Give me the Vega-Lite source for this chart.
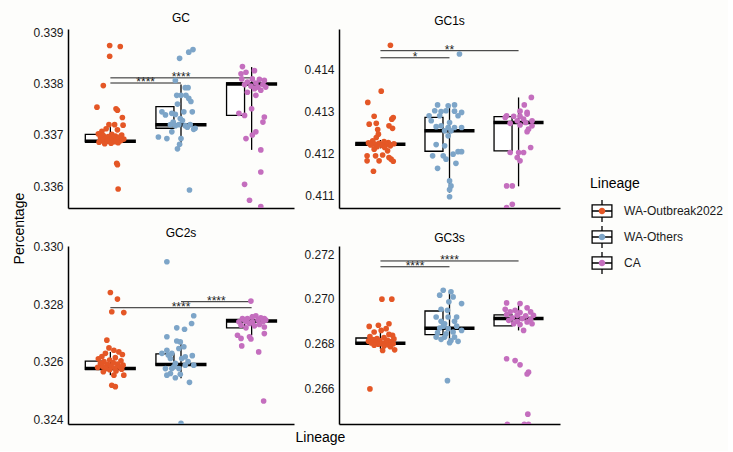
{
"$schema": "https://vega.github.io/schema/vega-lite/v6.json",
"background": "#fdfdfb",
"padding": {"left": 12, "top": 12, "right": 5, "bottom": 5},
"title": {"text": "Percentage", "orient": "left", "anchor": "middle", "fontSize": 14, "fontWeight": "normal", "color": "black", "offset": 6},
"config": {
 "view": {"stroke": null},
 "font": "Liberation Sans",
 "axisX": {"labels": false, "ticks": false, "domainColor": "black", "domainWidth": 1.5, "grid": false},
 "axisY": {"ticks": false, "labelPadding": 5, "labelFontSize": 12, "labelColor": "#1a1a1a", "domainColor": "black", "domainWidth": 1.5, "grid": false, "format": ".3f", "labelFlush": false},
 "title": {"fontSize": 12, "fontWeight": "normal", "color": "black", "offset": 1},
 "legend": {"titleFontSize": 14, "titleFontWeight": "normal", "labelFontSize": 12, "titleColor": "black", "labelColor": "#1a1a1a", "padding": 0, "titlePadding": 8, "rowPadding": -2, "labelOffset": 10, "symbolSize": 484},
 "concat": {"spacing": 9}
},
"datasets": {
"box": [
{"p":"GC","L":"WA-Outbreak2022","lo":0.33683,"q1":0.33687,"med":0.33688,"q3":0.33701,"hi":0.33720},
{"p":"GC","L":"WA-Others","lo":0.33680,"q1":0.33713,"med":0.33720,"q3":0.33755,"hi":0.33798},
{"p":"GC","L":"CA","lo":0.33671,"q1":0.33738,"med":0.33799,"q3":0.33801,"hi":0.33832},
{"p":"GC1s","L":"WA-Outbreak2022","lo":0.41212,"q1":0.41219,"med":0.41222,"q3":0.41226,"hi":0.41232},
{"p":"GC1s","L":"WA-Others","lo":0.41106,"q1":0.41205,"med":0.41254,"q3":0.41286,"hi":0.41316},
{"p":"GC1s","L":"CA","lo":0.41121,"q1":0.41206,"med":0.41274,"q3":0.41288,"hi":0.41334},
{"p":"GC2s","L":"WA-Outbreak2022","lo":0.32553,"q1":0.32573,"med":0.32576,"q3":0.32602,"hi":0.32634},
{"p":"GC2s","L":"WA-Others","lo":0.32542,"q1":0.32588,"med":0.32590,"q3":0.32627,"hi":0.32675},
{"p":"GC2s","L":"CA","lo":0.32692,"q1":0.32718,"med":0.32742,"q3":0.32747,"hi":0.32764},
{"p":"GC3s","L":"WA-Outbreak2022","lo":0.26776,"q1":0.26798,"med":0.26801,"q3":0.26824,"hi":0.26850},
{"p":"GC3s","L":"WA-Others","lo":0.26803,"q1":0.26839,"med":0.26868,"q3":0.26945,"hi":0.27030},
{"p":"GC3s","L":"CA","lo":0.26858,"q1":0.26878,"med":0.26911,"q3":0.26928,"hi":0.26978}
],
"sig": [
{"p":"GC","a":"WA-Outbreak2022","b":"WA-Others","mid":"WA-Outbreak2022","span":1,"y":0.33801,"lab":"****"},
{"p":"GC","a":"WA-Outbreak2022","b":"CA","mid":"WA-Others","span":2,"y":0.33811,"lab":"****"},
{"p":"GC1s","a":"WA-Outbreak2022","b":"WA-Others","mid":"WA-Outbreak2022","span":1,"y":0.41429,"lab":"*"},
{"p":"GC1s","a":"WA-Outbreak2022","b":"CA","mid":"WA-Others","span":2,"y":0.41446,"lab":"**"},
{"p":"GC2s","a":"WA-Outbreak2022","b":"CA","mid":"WA-Others","span":2,"y":0.32788,"lab":"****"},
{"p":"GC2s","a":"WA-Others","b":"CA","mid":"WA-Others","span":1,"y":0.32809,"lab":"****"},
{"p":"GC3s","a":"WA-Outbreak2022","b":"WA-Others","mid":"WA-Outbreak2022","span":1,"y":0.27143,"lab":"****"},
{"p":"GC3s","a":"WA-Outbreak2022","b":"CA","mid":"WA-Others","span":2,"y":0.27169,"lab":"****"}
],
"pts": [
{"p":"GC","L":"WA-Outbreak2022","s":19,"v":0.33874},{"p":"GC","L":"WA-Outbreak2022","s":34,"v":0.33872},{"p":"GC","L":"WA-Outbreak2022","s":19,"v":0.33853},{"p":"GC","L":"WA-Outbreak2022","s":10,"v":0.33796},{"p":"GC","L":"WA-Outbreak2022","s":1,"v":0.33754},{"p":"GC","L":"WA-Outbreak2022","s":28,"v":0.33751},{"p":"GC","L":"WA-Outbreak2022","s":30,"v":0.33748},{"p":"GC","L":"WA-Outbreak2022","s":37,"v":0.33734},{"p":"GC","L":"WA-Outbreak2022","s":18,"v":0.33720},{"p":"GC","L":"WA-Outbreak2022","s":26,"v":0.33720},{"p":"GC","L":"WA-Outbreak2022","s":38,"v":0.33719},{"p":"GC","L":"WA-Outbreak2022","s":8,"v":0.33707},{"p":"GC","L":"WA-Outbreak2022","s":14,"v":0.33712},{"p":"GC","L":"WA-Outbreak2022","s":30,"v":0.33710},{"p":"GC","L":"WA-Outbreak2022","s":3,"v":0.33702},{"p":"GC","L":"WA-Outbreak2022","s":22,"v":0.33701},{"p":"GC","L":"WA-Outbreak2022","s":36,"v":0.33700},{"p":"GC","L":"WA-Outbreak2022","s":10,"v":0.33699},{"p":"GC","L":"WA-Outbreak2022","s":27,"v":0.33698},{"p":"GC","L":"WA-Outbreak2022","s":17,"v":0.33697},{"p":"GC","L":"WA-Outbreak2022","s":33,"v":0.33696},{"p":"GC","L":"WA-Outbreak2022","s":6,"v":0.33695},{"p":"GC","L":"WA-Outbreak2022","s":24,"v":0.33694},{"p":"GC","L":"WA-Outbreak2022","s":13,"v":0.33693},{"p":"GC","L":"WA-Outbreak2022","s":39,"v":0.33692},{"p":"GC","L":"WA-Outbreak2022","s":20,"v":0.33691},{"p":"GC","L":"WA-Outbreak2022","s":29,"v":0.33690},{"p":"GC","L":"WA-Outbreak2022","s":8,"v":0.33689},{"p":"GC","L":"WA-Outbreak2022","s":35,"v":0.33689},{"p":"GC","L":"WA-Outbreak2022","s":16,"v":0.33688},{"p":"GC","L":"WA-Outbreak2022","s":26,"v":0.33687},{"p":"GC","L":"WA-Outbreak2022","s":4,"v":0.33686},{"p":"GC","L":"WA-Outbreak2022","s":31,"v":0.33685},{"p":"GC","L":"WA-Outbreak2022","s":21,"v":0.33684},{"p":"GC","L":"WA-Outbreak2022","s":12,"v":0.33683},{"p":"GC","L":"WA-Outbreak2022","s":29,"v":0.33645},{"p":"GC","L":"WA-Outbreak2022","s":30,"v":0.33642},{"p":"GC","L":"WA-Outbreak2022","s":31,"v":0.33595},
{"p":"GC","L":"WA-Others","s":37,"v":0.33866},{"p":"GC","L":"WA-Others","s":31,"v":0.33861},{"p":"GC","L":"WA-Others","s":18,"v":0.33849},{"p":"GC","L":"WA-Others","s":12,"v":0.33806},{"p":"GC","L":"WA-Others","s":26,"v":0.33792},{"p":"GC","L":"WA-Others","s":30,"v":0.33792},{"p":"GC","L":"WA-Others","s":14,"v":0.33777},{"p":"GC","L":"WA-Others","s":20,"v":0.33777},{"p":"GC","L":"WA-Others","s":27,"v":0.33777},{"p":"GC","L":"WA-Others","s":31,"v":0.33771},{"p":"GC","L":"WA-Others","s":-7,"v":0.33745},{"p":"GC","L":"WA-Others","s":7,"v":0.33742},{"p":"GC","L":"WA-Others","s":24,"v":0.33745},{"p":"GC","L":"WA-Others","s":36,"v":0.33745},{"p":"GC","L":"WA-Others","s":-2,"v":0.33739},{"p":"GC","L":"WA-Others","s":12,"v":0.33740},{"p":"GC","L":"WA-Others","s":19,"v":0.33732},{"p":"GC","L":"WA-Others","s":5,"v":0.33720},{"p":"GC","L":"WA-Others","s":17,"v":0.33720},{"p":"GC","L":"WA-Others","s":33,"v":0.33720},{"p":"GC","L":"WA-Others","s":12,"v":0.33718},{"p":"GC","L":"WA-Others","s":26,"v":0.33718},{"p":"GC","L":"WA-Others","s":40,"v":0.33713},{"p":"GC","L":"WA-Others","s":38,"v":0.33711},{"p":"GC","L":"WA-Others","s":7,"v":0.33706},{"p":"GC","L":"WA-Others","s":-12,"v":0.33696},{"p":"GC","L":"WA-Others","s":0,"v":0.33693},{"p":"GC","L":"WA-Others","s":20,"v":0.33693},{"p":"GC","L":"WA-Others","s":18,"v":0.33682},{"p":"GC","L":"WA-Others","s":15,"v":0.33673},{"p":"GC","L":"WA-Others","s":32,"v":0.33593},{"p":"GC","L":"WA-Others","s":22,"v":0.33728},{"p":"GC","L":"WA-Others","s":29,"v":0.33715},{"p":"GC","L":"WA-Others","s":9,"v":0.33725},{"p":"GC","L":"WA-Others","s":15,"v":0.33760},{"p":"GC","L":"WA-Others","s":34,"v":0.33765},
{"p":"GC","L":"CA","s":7,"v":0.33833},{"p":"GC","L":"CA","s":24,"v":0.33825},{"p":"GC","L":"CA","s":5,"v":0.33819},{"p":"GC","L":"CA","s":12,"v":0.33822},{"p":"GC","L":"CA","s":6,"v":0.33809},{"p":"GC","L":"CA","s":21,"v":0.33809},{"p":"GC","L":"CA","s":31,"v":0.33808},{"p":"GC","L":"CA","s":38,"v":0.33806},{"p":"GC","L":"CA","s":14,"v":0.33803},{"p":"GC","L":"CA","s":26,"v":0.33801},{"p":"GC","L":"CA","s":10,"v":0.33798},{"p":"GC","L":"CA","s":36,"v":0.33798},{"p":"GC","L":"CA","s":19,"v":0.33795},{"p":"GC","L":"CA","s":29,"v":0.33793},{"p":"GC","L":"CA","s":40,"v":0.33793},{"p":"GC","L":"CA","s":24,"v":0.33790},{"p":"GC","L":"CA","s":33,"v":0.33787},{"p":"GC","L":"CA","s":14,"v":0.33783},{"p":"GC","L":"CA","s":26,"v":0.33777},{"p":"GC","L":"CA","s":20,"v":0.33751},{"p":"GC","L":"CA","s":2,"v":0.33742},{"p":"GC","L":"CA","s":10,"v":0.33738},{"p":"GC","L":"CA","s":38,"v":0.33735},{"p":"GC","L":"CA","s":36,"v":0.33725},{"p":"GC","L":"CA","s":26,"v":0.33706},{"p":"GC","L":"CA","s":21,"v":0.33700},{"p":"GC","L":"CA","s":12,"v":0.33693},{"p":"GC","L":"CA","s":33,"v":0.33671},{"p":"GC","L":"CA","s":33,"v":0.33628},{"p":"GC","L":"CA","s":10,"v":0.33604},{"p":"GC","L":"CA","s":17,"v":0.33573},{"p":"GC","L":"CA","s":33,"v":0.33561},
{"p":"GC1s","L":"WA-Outbreak2022","s":33,"v":0.41459},{"p":"GC1s","L":"WA-Outbreak2022","s":20,"v":0.41349},{"p":"GC1s","L":"WA-Outbreak2022","s":1,"v":0.41322},{"p":"GC1s","L":"WA-Outbreak2022","s":10,"v":0.41289},{"p":"GC1s","L":"WA-Outbreak2022","s":35,"v":0.41282},{"p":"GC1s","L":"WA-Outbreak2022","s":37,"v":0.41286},{"p":"GC1s","L":"WA-Outbreak2022","s":3,"v":0.41270},{"p":"GC1s","L":"WA-Outbreak2022","s":13,"v":0.41272},{"p":"GC1s","L":"WA-Outbreak2022","s":31,"v":0.41266},{"p":"GC1s","L":"WA-Outbreak2022","s":16,"v":0.41246},{"p":"GC1s","L":"WA-Outbreak2022","s":36,"v":0.41260},{"p":"GC1s","L":"WA-Outbreak2022","s":13,"v":0.41238},{"p":"GC1s","L":"WA-Outbreak2022","s":15,"v":0.41257},{"p":"GC1s","L":"WA-Outbreak2022","s":8,"v":0.41230},{"p":"GC1s","L":"WA-Outbreak2022","s":24,"v":0.41228},{"p":"GC1s","L":"WA-Outbreak2022","s":30,"v":0.41226},{"p":"GC1s","L":"WA-Outbreak2022","s":2,"v":0.41225},{"p":"GC1s","L":"WA-Outbreak2022","s":17,"v":0.41224},{"p":"GC1s","L":"WA-Outbreak2022","s":38,"v":0.41223},{"p":"GC1s","L":"WA-Outbreak2022","s":11,"v":0.41222},{"p":"GC1s","L":"WA-Outbreak2022","s":27,"v":0.41221},{"p":"GC1s","L":"WA-Outbreak2022","s":5,"v":0.41220},{"p":"GC1s","L":"WA-Outbreak2022","s":21,"v":0.41219},{"p":"GC1s","L":"WA-Outbreak2022","s":33,"v":0.41218},{"p":"GC1s","L":"WA-Outbreak2022","s":14,"v":0.41216},{"p":"GC1s","L":"WA-Outbreak2022","s":25,"v":0.41214},{"p":"GC1s","L":"WA-Outbreak2022","s":10,"v":0.41210},{"p":"GC1s","L":"WA-Outbreak2022","s":29,"v":0.41206},{"p":"GC1s","L":"WA-Outbreak2022","s":0,"v":0.41194},{"p":"GC1s","L":"WA-Outbreak2022","s":12,"v":0.41194},{"p":"GC1s","L":"WA-Outbreak2022","s":22,"v":0.41196},{"p":"GC1s","L":"WA-Outbreak2022","s":31,"v":0.41190},{"p":"GC1s","L":"WA-Outbreak2022","s":17,"v":0.41182},{"p":"GC1s","L":"WA-Outbreak2022","s":34,"v":0.41186},{"p":"GC1s","L":"WA-Outbreak2022","s":0,"v":0.41182},{"p":"GC1s","L":"WA-Outbreak2022","s":37,"v":0.41181},{"p":"GC1s","L":"WA-Outbreak2022","s":9,"v":0.41157},
{"p":"GC1s","L":"WA-Others","s":33,"v":0.41438},{"p":"GC1s","L":"WA-Others","s":2,"v":0.41316},{"p":"GC1s","L":"WA-Others","s":17,"v":0.41314},{"p":"GC1s","L":"WA-Others","s":26,"v":0.41316},{"p":"GC1s","L":"WA-Others","s":-2,"v":0.41302},{"p":"GC1s","L":"WA-Others","s":7,"v":0.41300},{"p":"GC1s","L":"WA-Others","s":14,"v":0.41302},{"p":"GC1s","L":"WA-Others","s":26,"v":0.41301},{"p":"GC1s","L":"WA-Others","s":36,"v":0.41298},{"p":"GC1s","L":"WA-Others","s":-10,"v":0.41290},{"p":"GC1s","L":"WA-Others","s":5,"v":0.41290},{"p":"GC1s","L":"WA-Others","s":31,"v":0.41290},{"p":"GC1s","L":"WA-Others","s":-7,"v":0.41278},{"p":"GC1s","L":"WA-Others","s":19,"v":0.41274},{"p":"GC1s","L":"WA-Others","s":0,"v":0.41264},{"p":"GC1s","L":"WA-Others","s":7,"v":0.41266},{"p":"GC1s","L":"WA-Others","s":17,"v":0.41262},{"p":"GC1s","L":"WA-Others","s":26,"v":0.41262},{"p":"GC1s","L":"WA-Others","s":36,"v":0.41262},{"p":"GC1s","L":"WA-Others","s":12,"v":0.41254},{"p":"GC1s","L":"WA-Others","s":21,"v":0.41254},{"p":"GC1s","L":"WA-Others","s":17,"v":0.41242},{"p":"GC1s","L":"WA-Others","s":0,"v":0.41221},{"p":"GC1s","L":"WA-Others","s":12,"v":0.41218},{"p":"GC1s","L":"WA-Others","s":-5,"v":0.41194},{"p":"GC1s","L":"WA-Others","s":10,"v":0.41194},{"p":"GC1s","L":"WA-Others","s":24,"v":0.41198},{"p":"GC1s","L":"WA-Others","s":31,"v":0.41204},{"p":"GC1s","L":"WA-Others","s":36,"v":0.41204},{"p":"GC1s","L":"WA-Others","s":14,"v":0.41186},{"p":"GC1s","L":"WA-Others","s":28,"v":0.41176},{"p":"GC1s","L":"WA-Others","s":2,"v":0.41164},{"p":"GC1s","L":"WA-Others","s":19,"v":0.41134},{"p":"GC1s","L":"WA-Others","s":21,"v":0.41122},{"p":"GC1s","L":"WA-Others","s":19,"v":0.41113},{"p":"GC1s","L":"WA-Others","s":19,"v":0.41096},
{"p":"GC1s","L":"CA","s":37,"v":0.41334},{"p":"GC1s","L":"CA","s":27,"v":0.41316},{"p":"GC1s","L":"CA","s":21,"v":0.41301},{"p":"GC1s","L":"CA","s":31,"v":0.41298},{"p":"GC1s","L":"CA","s":2,"v":0.41290},{"p":"GC1s","L":"CA","s":12,"v":0.41289},{"p":"GC1s","L":"CA","s":21,"v":0.41289},{"p":"GC1s","L":"CA","s":31,"v":0.41294},{"p":"GC1s","L":"CA","s":17,"v":0.41278},{"p":"GC1s","L":"CA","s":26,"v":0.41282},{"p":"GC1s","L":"CA","s":38,"v":0.41278},{"p":"GC1s","L":"CA","s":7,"v":0.41272},{"p":"GC1s","L":"CA","s":21,"v":0.41268},{"p":"GC1s","L":"CA","s":38,"v":0.41266},{"p":"GC1s","L":"CA","s":31,"v":0.41252},{"p":"GC1s","L":"CA","s":33,"v":0.41258},{"p":"GC1s","L":"CA","s":0,"v":0.41286},{"p":"GC1s","L":"CA","s":29,"v":0.41274},{"p":"GC1s","L":"CA","s":36,"v":0.41214},{"p":"GC1s","L":"CA","s":7,"v":0.41202},{"p":"GC1s","L":"CA","s":19,"v":0.41202},{"p":"GC1s","L":"CA","s":26,"v":0.41202},{"p":"GC1s","L":"CA","s":17,"v":0.41190},{"p":"GC1s","L":"CA","s":21,"v":0.41182},{"p":"GC1s","L":"CA","s":2,"v":0.41122},{"p":"GC1s","L":"CA","s":10,"v":0.41122},{"p":"GC1s","L":"CA","s":2,"v":0.41070},{"p":"GC1s","L":"CA","s":10,"v":0.41078},
{"p":"GC2s","L":"WA-Outbreak2022","s":20,"v":0.32841},{"p":"GC2s","L":"WA-Outbreak2022","s":30,"v":0.32818},{"p":"GC2s","L":"WA-Outbreak2022","s":22,"v":0.32774},{"p":"GC2s","L":"WA-Outbreak2022","s":39,"v":0.32771},{"p":"GC2s","L":"WA-Outbreak2022","s":15,"v":0.32675},{"p":"GC2s","L":"WA-Outbreak2022","s":18,"v":0.32648},{"p":"GC2s","L":"WA-Outbreak2022","s":25,"v":0.32640},{"p":"GC2s","L":"WA-Outbreak2022","s":13,"v":0.32629},{"p":"GC2s","L":"WA-Outbreak2022","s":32,"v":0.32634},{"p":"GC2s","L":"WA-Outbreak2022","s":37,"v":0.32625},{"p":"GC2s","L":"WA-Outbreak2022","s":8,"v":0.32618},{"p":"GC2s","L":"WA-Outbreak2022","s":27,"v":0.32614},{"p":"GC2s","L":"WA-Outbreak2022","s":3,"v":0.32610},{"p":"GC2s","L":"WA-Outbreak2022","s":19,"v":0.32606},{"p":"GC2s","L":"WA-Outbreak2022","s":35,"v":0.32603},{"p":"GC2s","L":"WA-Outbreak2022","s":11,"v":0.32600},{"p":"GC2s","L":"WA-Outbreak2022","s":24,"v":0.32597},{"p":"GC2s","L":"WA-Outbreak2022","s":6,"v":0.32594},{"p":"GC2s","L":"WA-Outbreak2022","s":30,"v":0.32592},{"p":"GC2s","L":"WA-Outbreak2022","s":16,"v":0.32590},{"p":"GC2s","L":"WA-Outbreak2022","s":38,"v":0.32588},{"p":"GC2s","L":"WA-Outbreak2022","s":21,"v":0.32586},{"p":"GC2s","L":"WA-Outbreak2022","s":9,"v":0.32584},{"p":"GC2s","L":"WA-Outbreak2022","s":33,"v":0.32582},{"p":"GC2s","L":"WA-Outbreak2022","s":2,"v":0.32580},{"p":"GC2s","L":"WA-Outbreak2022","s":26,"v":0.32578},{"p":"GC2s","L":"WA-Outbreak2022","s":14,"v":0.32576},{"p":"GC2s","L":"WA-Outbreak2022","s":36,"v":0.32574},{"p":"GC2s","L":"WA-Outbreak2022","s":19,"v":0.32572},{"p":"GC2s","L":"WA-Outbreak2022","s":28,"v":0.32568},{"p":"GC2s","L":"WA-Outbreak2022","s":10,"v":0.32565},{"p":"GC2s","L":"WA-Outbreak2022","s":25,"v":0.32553},{"p":"GC2s","L":"WA-Outbreak2022","s":39,"v":0.32553},{"p":"GC2s","L":"WA-Outbreak2022","s":22,"v":0.32518},{"p":"GC2s","L":"WA-Outbreak2022","s":27,"v":0.32513},
{"p":"GC2s","L":"WA-Others","s":0,"v":0.32948},{"p":"GC2s","L":"WA-Others","s":38,"v":0.32760},{"p":"GC2s","L":"WA-Others","s":35,"v":0.32733},{"p":"GC2s","L":"WA-Others","s":14,"v":0.32718},{"p":"GC2s","L":"WA-Others","s":25,"v":0.32713},{"p":"GC2s","L":"WA-Others","s":0,"v":0.32687},{"p":"GC2s","L":"WA-Others","s":14,"v":0.32672},{"p":"GC2s","L":"WA-Others","s":19,"v":0.32669},{"p":"GC2s","L":"WA-Others","s":0,"v":0.32640},{"p":"GC2s","L":"WA-Others","s":17,"v":0.32646},{"p":"GC2s","L":"WA-Others","s":24,"v":0.32652},{"p":"GC2s","L":"WA-Others","s":-7,"v":0.32629},{"p":"GC2s","L":"WA-Others","s":2,"v":0.32623},{"p":"GC2s","L":"WA-Others","s":7,"v":0.32629},{"p":"GC2s","L":"WA-Others","s":36,"v":0.32621},{"p":"GC2s","L":"WA-Others","s":5,"v":0.32611},{"p":"GC2s","L":"WA-Others","s":21,"v":0.32611},{"p":"GC2s","L":"WA-Others","s":26,"v":0.32617},{"p":"GC2s","L":"WA-Others","s":12,"v":0.32594},{"p":"GC2s","L":"WA-Others","s":26,"v":0.32588},{"p":"GC2s","L":"WA-Others","s":38,"v":0.32588},{"p":"GC2s","L":"WA-Others","s":-2,"v":0.32576},{"p":"GC2s","L":"WA-Others","s":7,"v":0.32576},{"p":"GC2s","L":"WA-Others","s":17,"v":0.32576},{"p":"GC2s","L":"WA-Others","s":5,"v":0.32559},{"p":"GC2s","L":"WA-Others","s":19,"v":0.32556},{"p":"GC2s","L":"WA-Others","s":0,"v":0.32553},{"p":"GC2s","L":"WA-Others","s":12,"v":0.32544},{"p":"GC2s","L":"WA-Others","s":32,"v":0.32528},{"p":"GC2s","L":"WA-Others","s":20,"v":0.32385},{"p":"GC2s","L":"WA-Others","s":30,"v":0.32600},{"p":"GC2s","L":"WA-Others","s":10,"v":0.32582},
{"p":"GC2s","L":"CA","s":19,"v":0.32811},{"p":"GC2s","L":"CA","s":7,"v":0.32750},{"p":"GC2s","L":"CA","s":14,"v":0.32750},{"p":"GC2s","L":"CA","s":26,"v":0.32760},{"p":"GC2s","L":"CA","s":38,"v":0.32750},{"p":"GC2s","L":"CA","s":40,"v":0.32745},{"p":"GC2s","L":"CA","s":2,"v":0.32739},{"p":"GC2s","L":"CA","s":12,"v":0.32739},{"p":"GC2s","L":"CA","s":21,"v":0.32739},{"p":"GC2s","L":"CA","s":36,"v":0.32739},{"p":"GC2s","L":"CA","s":10,"v":0.32745},{"p":"GC2s","L":"CA","s":29,"v":0.32745},{"p":"GC2s","L":"CA","s":17,"v":0.32733},{"p":"GC2s","L":"CA","s":31,"v":0.32730},{"p":"GC2s","L":"CA","s":5,"v":0.32727},{"p":"GC2s","L":"CA","s":24,"v":0.32725},{"p":"GC2s","L":"CA","s":38,"v":0.32721},{"p":"GC2s","L":"CA","s":12,"v":0.32718},{"p":"GC2s","L":"CA","s":0,"v":0.32692},{"p":"GC2s","L":"CA","s":17,"v":0.32687},{"p":"GC2s","L":"CA","s":38,"v":0.32698},{"p":"GC2s","L":"CA","s":5,"v":0.32681},{"p":"GC2s","L":"CA","s":19,"v":0.32679},{"p":"GC2s","L":"CA","s":6,"v":0.32655},{"p":"GC2s","L":"CA","s":30,"v":0.32634},{"p":"GC2s","L":"CA","s":37,"v":0.32463},{"p":"GC2s","L":"CA","s":33,"v":0.32753},{"p":"GC2s","L":"CA","s":21,"v":0.32756},
{"p":"GC3s","L":"WA-Outbreak2022","s":21,"v":0.26998},{"p":"GC3s","L":"WA-Outbreak2022","s":35,"v":0.26998},{"p":"GC3s","L":"WA-Outbreak2022","s":3,"v":0.26876},{"p":"GC3s","L":"WA-Outbreak2022","s":16,"v":0.26881},{"p":"GC3s","L":"WA-Outbreak2022","s":31,"v":0.26888},{"p":"GC3s","L":"WA-Outbreak2022","s":27,"v":0.26866},{"p":"GC3s","L":"WA-Outbreak2022","s":20,"v":0.26858},{"p":"GC3s","L":"WA-Outbreak2022","s":36,"v":0.26836},{"p":"GC3s","L":"WA-Outbreak2022","s":31,"v":0.26840},{"p":"GC3s","L":"WA-Outbreak2022","s":10,"v":0.26851},{"p":"GC3s","L":"WA-Outbreak2022","s":4,"v":0.26830},{"p":"GC3s","L":"WA-Outbreak2022","s":24,"v":0.26826},{"p":"GC3s","L":"WA-Outbreak2022","s":14,"v":0.26822},{"p":"GC3s","L":"WA-Outbreak2022","s":38,"v":0.26820},{"p":"GC3s","L":"WA-Outbreak2022","s":8,"v":0.26817},{"p":"GC3s","L":"WA-Outbreak2022","s":29,"v":0.26814},{"p":"GC3s","L":"WA-Outbreak2022","s":18,"v":0.26812},{"p":"GC3s","L":"WA-Outbreak2022","s":2,"v":0.26810},{"p":"GC3s","L":"WA-Outbreak2022","s":34,"v":0.26808},{"p":"GC3s","L":"WA-Outbreak2022","s":12,"v":0.26806},{"p":"GC3s","L":"WA-Outbreak2022","s":26,"v":0.26804},{"p":"GC3s","L":"WA-Outbreak2022","s":6,"v":0.26802},{"p":"GC3s","L":"WA-Outbreak2022","s":21,"v":0.26800},{"p":"GC3s","L":"WA-Outbreak2022","s":37,"v":0.26798},{"p":"GC3s","L":"WA-Outbreak2022","s":16,"v":0.26796},{"p":"GC3s","L":"WA-Outbreak2022","s":30,"v":0.26794},{"p":"GC3s","L":"WA-Outbreak2022","s":10,"v":0.26792},{"p":"GC3s","L":"WA-Outbreak2022","s":24,"v":0.26788},{"p":"GC3s","L":"WA-Outbreak2022","s":33,"v":0.26785},{"p":"GC3s","L":"WA-Outbreak2022","s":22,"v":0.26768},{"p":"GC3s","L":"WA-Outbreak2022","s":39,"v":0.26771},{"p":"GC3s","L":"WA-Outbreak2022","s":4,"v":0.26596},
{"p":"GC3s","L":"WA-Others","s":10,"v":0.27038},{"p":"GC3s","L":"WA-Others","s":21,"v":0.27031},{"p":"GC3s","L":"WA-Others","s":5,"v":0.27016},{"p":"GC3s","L":"WA-Others","s":24,"v":0.27008},{"p":"GC3s","L":"WA-Others","s":18,"v":0.26986},{"p":"GC3s","L":"WA-Others","s":36,"v":0.26978},{"p":"GC3s","L":"WA-Others","s":7,"v":0.26953},{"p":"GC3s","L":"WA-Others","s":16,"v":0.26948},{"p":"GC3s","L":"WA-Others","s":0,"v":0.26918},{"p":"GC3s","L":"WA-Others","s":17,"v":0.26918},{"p":"GC3s","L":"WA-Others","s":29,"v":0.26918},{"p":"GC3s","L":"WA-Others","s":7,"v":0.26899},{"p":"GC3s","L":"WA-Others","s":26,"v":0.26899},{"p":"GC3s","L":"WA-Others","s":12,"v":0.26888},{"p":"GC3s","L":"WA-Others","s":5,"v":0.26869},{"p":"GC3s","L":"WA-Others","s":17,"v":0.26866},{"p":"GC3s","L":"WA-Others","s":36,"v":0.26858},{"p":"GC3s","L":"WA-Others","s":2,"v":0.26848},{"p":"GC3s","L":"WA-Others","s":14,"v":0.26843},{"p":"GC3s","L":"WA-Others","s":24,"v":0.26851},{"p":"GC3s","L":"WA-Others","s":0,"v":0.26828},{"p":"GC3s","L":"WA-Others","s":12,"v":0.26828},{"p":"GC3s","L":"WA-Others","s":26,"v":0.26828},{"p":"GC3s","L":"WA-Others","s":7,"v":0.26818},{"p":"GC3s","L":"WA-Others","s":21,"v":0.26813},{"p":"GC3s","L":"WA-Others","s":31,"v":0.26809},{"p":"GC3s","L":"WA-Others","s":19,"v":0.26803},{"p":"GC3s","L":"WA-Others","s":16,"v":0.26633},{"p":"GC3s","L":"WA-Others","s":29,"v":0.26877},{"p":"GC3s","L":"WA-Others","s":10,"v":0.26877},
{"p":"GC3s","L":"CA","s":2,"v":0.26981},{"p":"GC3s","L":"CA","s":21,"v":0.26978},{"p":"GC3s","L":"CA","s":31,"v":0.26959},{"p":"GC3s","L":"CA","s":0,"v":0.26953},{"p":"GC3s","L":"CA","s":14,"v":0.26948},{"p":"GC3s","L":"CA","s":7,"v":0.26941},{"p":"GC3s","L":"CA","s":21,"v":0.26938},{"p":"GC3s","L":"CA","s":36,"v":0.26941},{"p":"GC3s","L":"CA","s":2,"v":0.26929},{"p":"GC3s","L":"CA","s":17,"v":0.26926},{"p":"GC3s","L":"CA","s":29,"v":0.26923},{"p":"GC3s","L":"CA","s":40,"v":0.26926},{"p":"GC3s","L":"CA","s":10,"v":0.26914},{"p":"GC3s","L":"CA","s":24,"v":0.26911},{"p":"GC3s","L":"CA","s":36,"v":0.26908},{"p":"GC3s","L":"CA","s":5,"v":0.26903},{"p":"GC3s","L":"CA","s":17,"v":0.26899},{"p":"GC3s","L":"CA","s":31,"v":0.26896},{"p":"GC3s","L":"CA","s":12,"v":0.26888},{"p":"GC3s","L":"CA","s":21,"v":0.26884},{"p":"GC3s","L":"CA","s":38,"v":0.26888},{"p":"GC3s","L":"CA","s":26,"v":0.26858},{"p":"GC3s","L":"CA","s":2,"v":0.26731},{"p":"GC3s","L":"CA","s":14,"v":0.26723},{"p":"GC3s","L":"CA","s":33,"v":0.26671},{"p":"GC3s","L":"CA","s":31,"v":0.26663},{"p":"GC3s","L":"CA","s":32,"v":0.26483},{"p":"GC3s","L":"CA","s":3,"v":0.26438},{"p":"GC3s","L":"CA","s":27,"v":0.26438},{"p":"GC3s","L":"CA","s":33,"v":0.26438},{"p":"GC3s","L":"CA","s":21,"v":0.26704}
]
},
"vconcat": [
{
"title": {"text": "Lineage", "orient": "bottom", "anchor": "middle", "fontSize": 14, "fontWeight": "normal", "color": "black", "offset": 6, "dx": 24},
"spacing": 18,
"vconcat": [
{"hconcat": [
{"width": 226, "height": 179, "title": {"text": "GC", "fontSize": 12, "fontWeight": "normal", "color": "black", "offset": 1},
 "layer": [
  {"data": {"name": "box"}, "transform": [{"filter": "datum.p === 'GC'"}], "mark": {"type": "rule", "color": "black", "strokeWidth": 1.3},
   "encoding": {"x": {"field": "L", "type": "nominal", "title": null, "scale": {"domain": ["WA-Outbreak2022", "WA-Others", "CA"], "paddingInner": 0, "paddingOuter": 0.1}},
    "y": {"field": "lo", "type": "quantitative", "title": null, "scale": {"domain": [0.33558, 0.33906], "nice": false, "zero": false}, "axis": {"values": [0.336, 0.337, 0.338, 0.339]}}, "y2": {"field": "hi"}}},
  {"data": {"name": "box"}, "transform": [{"filter": "datum.p === 'GC'"}], "mark": {"type": "bar", "fill": "white", "strokeWidth": 1.3, "width": {"band": 0.71}},
   "encoding": {"x": {"field": "L", "type": "nominal", "title": null}, "y": {"field": "q1", "type": "quantitative", "title": null}, "y2": {"field": "q3"},
    "stroke": {"field": "L", "type": "nominal", "sort": ["WA-Outbreak2022", "WA-Others", "CA"], "scale": {"range": ["black", "black", "black"]},
     "legend": {"title": "Lineage", "orient": "none", "legendX": 522, "legendY": 148, "symbolType": "M-0.9,-0.55H0.9V0.55H-0.9Z M-0.9,0H0.9 M0,-1V-0.55 M0,0.55V1", "symbolStrokeWidth": 1.3, "labelOpacity": 0, "titleOpacity": 0, "zindex": 1}}}},
  {"data": {"name": "box"}, "transform": [{"filter": "datum.p === 'GC'"}], "mark": {"type": "tick", "color": "black", "thickness": 3.5, "size": 51, "opacity": 1},
   "encoding": {"x": {"field": "L", "type": "nominal", "title": null}, "y": {"field": "med", "type": "quantitative", "title": null}}},
  {"data": {"name": "sig"}, "transform": [{"filter": "datum.p === 'GC'"}], "mark": {"type": "rule", "color": "#222", "strokeWidth": 1},
   "encoding": {"x": {"field": "a", "type": "nominal", "title": null}, "x2": {"field": "b"}, "y": {"field": "y", "type": "quantitative", "title": null}}},
  {"data": {"name": "sig"}, "transform": [{"filter": "datum.p === 'GC' && datum.span === 1"}], "mark": {"type": "text", "fontSize": 12, "dy": 3, "color": "#222", "baseline": "alphabetic"},
   "encoding": {"x": {"field": "mid", "type": "nominal", "bandPosition": 1, "title": null}, "y": {"field": "y", "type": "quantitative", "title": null}, "text": {"field": "lab"}}},
  {"data": {"name": "sig"}, "transform": [{"filter": "datum.p === 'GC' && datum.span === 2"}], "mark": {"type": "text", "fontSize": 12, "dy": 3, "color": "#222", "baseline": "alphabetic"},
   "encoding": {"x": {"field": "mid", "type": "nominal", "bandPosition": 0.5, "title": null}, "y": {"field": "y", "type": "quantitative", "title": null}, "text": {"field": "lab"}}},
  {"data": {"name": "pts"}, "transform": [{"filter": "datum.p === 'GC'"}], "mark": {"type": "circle", "size": 32, "opacity": 1, "clip": true},
   "encoding": {"x": {"field": "L", "type": "nominal", "title": null}, "xOffset": {"field": "s", "type": "quantitative", "scale": {"domain": [-30, 70]}}, "y": {"field": "v", "type": "quantitative", "title": null},
    "color": {"field": "L", "type": "nominal", "sort": ["WA-Outbreak2022", "WA-Others", "CA"], "scale": {"range": ["#e45726", "#7da5c8", "#c46ebe"]},
     "legend": {"title": "Lineage", "orient": "none", "legendX": 522, "legendY": 148, "symbolType": "M-0.9,-0.55H0.9 M-0.9,0.55H0.9 M-0.9,0H0.9 M0,-1V-0.55 M0,0.55V1 M-0.3,0A0.3,0.3 0 1,0 0.3,0A0.3,0.3 0 1,0 -0.3,0Z", "symbolStrokeWidth": 1.3, "symbolStrokeColor": "transparent", "zindex": 2}}}}
 ]},
{"width": 221, "height": 179, "title": {"text": "GC1s", "fontSize": 12, "fontWeight": "normal", "color": "black", "offset": 1},
 "layer": [
  {"data": {"name": "box"}, "transform": [{"filter": "datum.p === 'GC1s'"}], "mark": {"type": "rule", "color": "black", "strokeWidth": 1.3},
   "encoding": {"x": {"field": "L", "type": "nominal", "title": null, "scale": {"domain": ["WA-Outbreak2022", "WA-Others", "CA"], "paddingInner": 0, "paddingOuter": 0.1}},
    "y": {"field": "lo", "type": "quantitative", "title": null, "scale": {"domain": [0.41069, 0.41498], "nice": false, "zero": false}, "axis": {"values": [0.411, 0.412, 0.413, 0.414]}}, "y2": {"field": "hi"}}},
  {"data": {"name": "box"}, "transform": [{"filter": "datum.p === 'GC1s'"}], "mark": {"type": "bar", "fill": "white", "strokeWidth": 1.3, "width": {"band": 0.71}},
   "encoding": {"x": {"field": "L", "type": "nominal", "title": null}, "y": {"field": "q1", "type": "quantitative", "title": null}, "y2": {"field": "q3"},
    "stroke": {"field": "L", "type": "nominal", "sort": ["WA-Outbreak2022", "WA-Others", "CA"], "scale": {"range": ["black", "black", "black"]}}}},
  {"data": {"name": "box"}, "transform": [{"filter": "datum.p === 'GC1s'"}], "mark": {"type": "tick", "color": "black", "thickness": 3.5, "size": 50, "opacity": 1},
   "encoding": {"x": {"field": "L", "type": "nominal", "title": null}, "y": {"field": "med", "type": "quantitative", "title": null}}},
  {"data": {"name": "sig"}, "transform": [{"filter": "datum.p === 'GC1s'"}], "mark": {"type": "rule", "color": "#222", "strokeWidth": 1},
   "encoding": {"x": {"field": "a", "type": "nominal", "title": null}, "x2": {"field": "b"}, "y": {"field": "y", "type": "quantitative", "title": null}}},
  {"data": {"name": "sig"}, "transform": [{"filter": "datum.p === 'GC1s' && datum.span === 1"}], "mark": {"type": "text", "fontSize": 12, "dy": 3, "color": "#222", "baseline": "alphabetic"},
   "encoding": {"x": {"field": "mid", "type": "nominal", "bandPosition": 1, "title": null}, "y": {"field": "y", "type": "quantitative", "title": null}, "text": {"field": "lab"}}},
  {"data": {"name": "sig"}, "transform": [{"filter": "datum.p === 'GC1s' && datum.span === 2"}], "mark": {"type": "text", "fontSize": 12, "dy": 3, "color": "#222", "baseline": "alphabetic"},
   "encoding": {"x": {"field": "mid", "type": "nominal", "bandPosition": 0.5, "title": null}, "y": {"field": "y", "type": "quantitative", "title": null}, "text": {"field": "lab"}}},
  {"data": {"name": "pts"}, "transform": [{"filter": "datum.p === 'GC1s'"}], "mark": {"type": "circle", "size": 32, "opacity": 1, "clip": true},
   "encoding": {"x": {"field": "L", "type": "nominal", "title": null}, "xOffset": {"field": "s", "type": "quantitative", "scale": {"domain": [-30, 70]}}, "y": {"field": "v", "type": "quantitative", "title": null},
    "color": {"field": "L", "type": "nominal", "sort": ["WA-Outbreak2022", "WA-Others", "CA"], "scale": {"range": ["#e45726", "#7da5c8", "#c46ebe"]}}}}
 ]}
]},
{"hconcat": [
{"width": 226, "height": 178, "title": {"text": "GC2s", "fontSize": 12, "fontWeight": "normal", "color": "black", "offset": 1},
 "layer": [
  {"data": {"name": "box"}, "transform": [{"filter": "datum.p === 'GC2s'"}], "mark": {"type": "rule", "color": "black", "strokeWidth": 1.3},
   "encoding": {"x": {"field": "L", "type": "nominal", "title": null, "scale": {"domain": ["WA-Outbreak2022", "WA-Others", "CA"], "paddingInner": 0, "paddingOuter": 0.1}},
    "y": {"field": "lo", "type": "quantitative", "title": null, "scale": {"domain": [0.32383, 0.33003], "nice": false, "zero": false}, "axis": {"values": [0.324, 0.326, 0.328, 0.330]}}, "y2": {"field": "hi"}}},
  {"data": {"name": "box"}, "transform": [{"filter": "datum.p === 'GC2s'"}], "mark": {"type": "bar", "fill": "white", "strokeWidth": 1.3, "width": {"band": 0.71}},
   "encoding": {"x": {"field": "L", "type": "nominal", "title": null}, "y": {"field": "q1", "type": "quantitative", "title": null}, "y2": {"field": "q3"},
    "stroke": {"field": "L", "type": "nominal", "sort": ["WA-Outbreak2022", "WA-Others", "CA"], "scale": {"range": ["black", "black", "black"]}}}},
  {"data": {"name": "box"}, "transform": [{"filter": "datum.p === 'GC2s'"}], "mark": {"type": "tick", "color": "black", "thickness": 3.5, "size": 51, "opacity": 1},
   "encoding": {"x": {"field": "L", "type": "nominal", "title": null}, "y": {"field": "med", "type": "quantitative", "title": null}}},
  {"data": {"name": "sig"}, "transform": [{"filter": "datum.p === 'GC2s'"}], "mark": {"type": "rule", "color": "#222", "strokeWidth": 1},
   "encoding": {"x": {"field": "a", "type": "nominal", "title": null}, "x2": {"field": "b"}, "y": {"field": "y", "type": "quantitative", "title": null}}},
  {"data": {"name": "sig"}, "transform": [{"filter": "datum.p === 'GC2s' && datum.span === 1"}], "mark": {"type": "text", "fontSize": 12, "dy": 3, "color": "#222", "baseline": "alphabetic"},
   "encoding": {"x": {"field": "mid", "type": "nominal", "bandPosition": 1, "title": null}, "y": {"field": "y", "type": "quantitative", "title": null}, "text": {"field": "lab"}}},
  {"data": {"name": "sig"}, "transform": [{"filter": "datum.p === 'GC2s' && datum.span === 2"}], "mark": {"type": "text", "fontSize": 12, "dy": 3, "color": "#222", "baseline": "alphabetic"},
   "encoding": {"x": {"field": "mid", "type": "nominal", "bandPosition": 0.5, "title": null}, "y": {"field": "y", "type": "quantitative", "title": null}, "text": {"field": "lab"}}},
  {"data": {"name": "pts"}, "transform": [{"filter": "datum.p === 'GC2s'"}], "mark": {"type": "circle", "size": 32, "opacity": 1, "clip": true},
   "encoding": {"x": {"field": "L", "type": "nominal", "title": null}, "xOffset": {"field": "s", "type": "quantitative", "scale": {"domain": [-30, 70]}}, "y": {"field": "v", "type": "quantitative", "title": null},
    "color": {"field": "L", "type": "nominal", "sort": ["WA-Outbreak2022", "WA-Others", "CA"], "scale": {"range": ["#e45726", "#7da5c8", "#c46ebe"]}}}}
 ]},
{"width": 221, "height": 178, "title": {"text": "GC3s", "fontSize": 12, "fontWeight": "normal", "color": "black", "offset": 1},
 "layer": [
  {"data": {"name": "box"}, "transform": [{"filter": "datum.p === 'GC3s'"}], "mark": {"type": "rule", "color": "black", "strokeWidth": 1.3},
   "encoding": {"x": {"field": "L", "type": "nominal", "title": null, "scale": {"domain": ["WA-Outbreak2022", "WA-Others", "CA"], "paddingInner": 0, "paddingOuter": 0.1}},
    "y": {"field": "lo", "type": "quantitative", "title": null, "scale": {"domain": [0.26439, 0.27236], "nice": false, "zero": false}, "axis": {"values": [0.266, 0.268, 0.270, 0.272]}}, "y2": {"field": "hi"}}},
  {"data": {"name": "box"}, "transform": [{"filter": "datum.p === 'GC3s'"}], "mark": {"type": "bar", "fill": "white", "strokeWidth": 1.3, "width": {"band": 0.71}},
   "encoding": {"x": {"field": "L", "type": "nominal", "title": null}, "y": {"field": "q1", "type": "quantitative", "title": null}, "y2": {"field": "q3"},
    "stroke": {"field": "L", "type": "nominal", "sort": ["WA-Outbreak2022", "WA-Others", "CA"], "scale": {"range": ["black", "black", "black"]}}}},
  {"data": {"name": "box"}, "transform": [{"filter": "datum.p === 'GC3s'"}], "mark": {"type": "tick", "color": "black", "thickness": 3.5, "size": 50, "opacity": 1},
   "encoding": {"x": {"field": "L", "type": "nominal", "title": null}, "y": {"field": "med", "type": "quantitative", "title": null}}},
  {"data": {"name": "sig"}, "transform": [{"filter": "datum.p === 'GC3s'"}], "mark": {"type": "rule", "color": "#222", "strokeWidth": 1},
   "encoding": {"x": {"field": "a", "type": "nominal", "title": null}, "x2": {"field": "b"}, "y": {"field": "y", "type": "quantitative", "title": null}}},
  {"data": {"name": "sig"}, "transform": [{"filter": "datum.p === 'GC3s' && datum.span === 1"}], "mark": {"type": "text", "fontSize": 12, "dy": 3, "color": "#222", "baseline": "alphabetic"},
   "encoding": {"x": {"field": "mid", "type": "nominal", "bandPosition": 1, "title": null}, "y": {"field": "y", "type": "quantitative", "title": null}, "text": {"field": "lab"}}},
  {"data": {"name": "sig"}, "transform": [{"filter": "datum.p === 'GC3s' && datum.span === 2"}], "mark": {"type": "text", "fontSize": 12, "dy": 3, "color": "#222", "baseline": "alphabetic"},
   "encoding": {"x": {"field": "mid", "type": "nominal", "bandPosition": 0.5, "title": null}, "y": {"field": "y", "type": "quantitative", "title": null}, "text": {"field": "lab"}}},
  {"data": {"name": "pts"}, "transform": [{"filter": "datum.p === 'GC3s'"}], "mark": {"type": "circle", "size": 32, "opacity": 1, "clip": true},
   "encoding": {"x": {"field": "L", "type": "nominal", "title": null}, "xOffset": {"field": "s", "type": "quantitative", "scale": {"domain": [-30, 70]}}, "y": {"field": "v", "type": "quantitative", "title": null},
    "color": {"field": "L", "type": "nominal", "sort": ["WA-Outbreak2022", "WA-Others", "CA"], "scale": {"range": ["#e45726", "#7da5c8", "#c46ebe"]}}}}
 ]}
]}
]
}
]
}
